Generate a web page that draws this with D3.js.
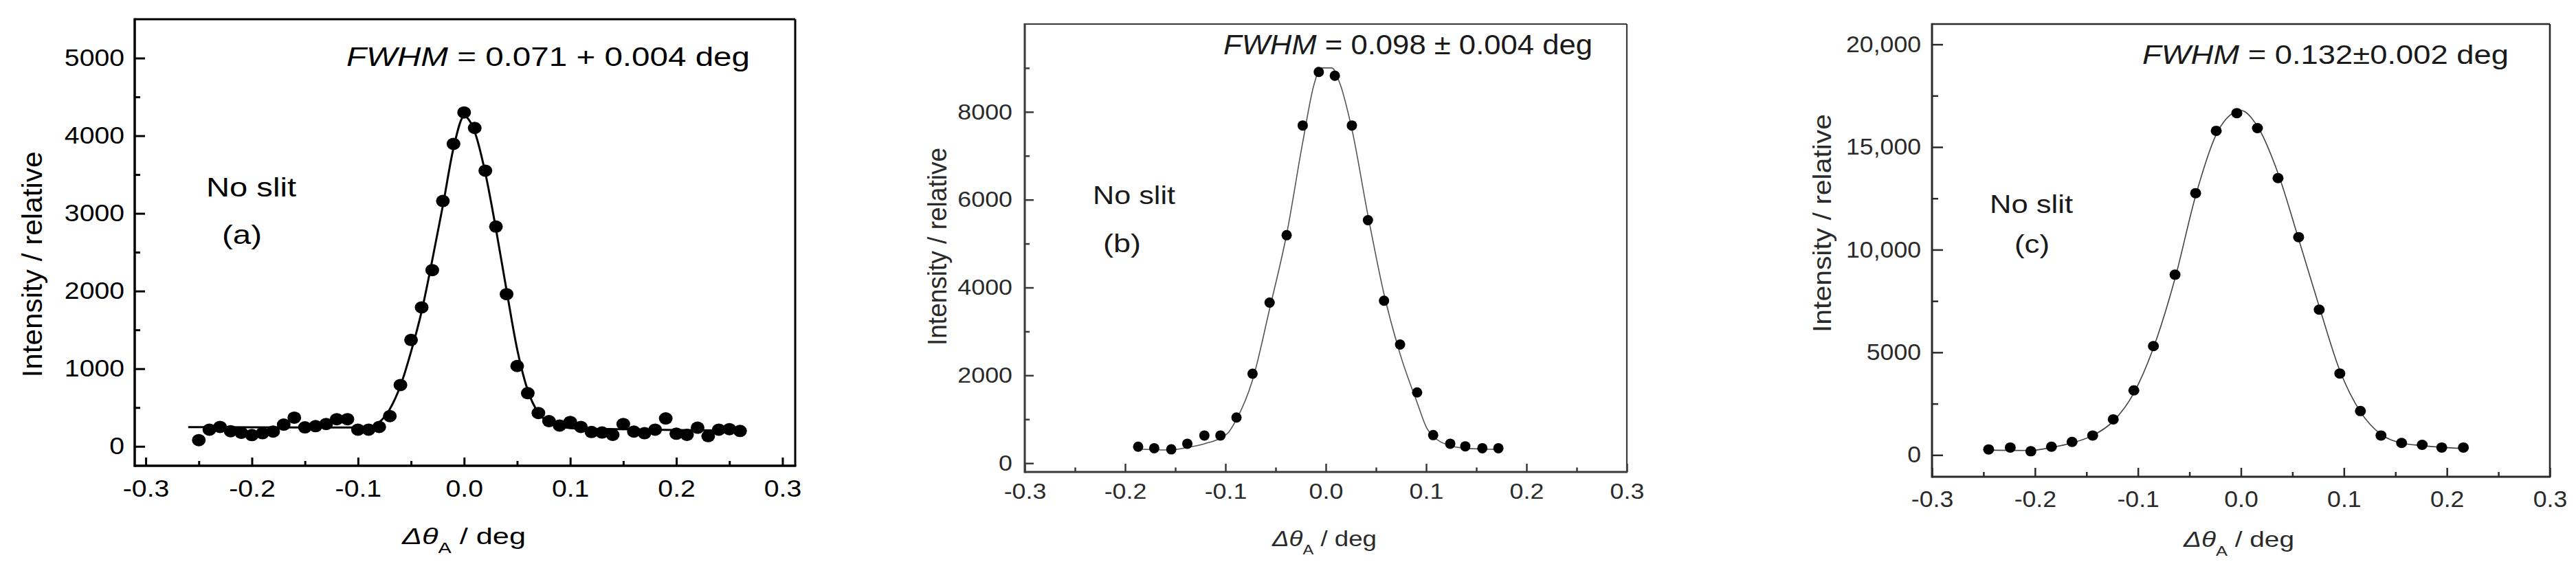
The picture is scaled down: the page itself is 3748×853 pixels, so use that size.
<!DOCTYPE html>
<html><head><meta charset="utf-8">
<script src="https://cdn.jsdelivr.net/npm/d3@7"></script>
<style>html,body{margin:0;padding:0;background:#fff;} svg{display:block;}</style>
</head><body>
<script>
// ---------------- DATA ----------------
// Panel (a)
const xA = [-0.25,-0.24,-0.23,-0.22,-0.21,-0.20,-0.19,-0.18,-0.17,-0.16,-0.15,-0.14,-0.13,-0.12,-0.11,-0.10,-0.09,-0.08,-0.07,-0.06,-0.05,-0.04,-0.03,-0.02,-0.01,0.00,0.01,0.02,0.03,0.04,0.05,0.06,0.07,0.08,0.09,0.10,0.11,0.12,0.13,0.14,0.15,0.16,0.17,0.18,0.19,0.20,0.21,0.22,0.23,0.24,0.25,0.26];
const yA = [80,215,250,195,175,145,170,190,280,370,245,260,288,350,350,215,215,250,390,790,1370,1790,2270,3160,3895,4300,4100,3550,2830,1960,1035,685,430,325,268,315,250,185,178,148,288,190,170,215,360,163,148,240,132,215,222,198];
const fitXA = [-0.26,-0.2,-0.15,-0.1,-0.09,-0.08,-0.07,-0.06,-0.05,-0.04,-0.03,-0.02,-0.01,0.0,0.01,0.02,0.03,0.04,0.05,0.06,0.07,0.08,0.09,0.10,0.15,0.20,0.26];
const fitYA = [248,246,244,243,250,310,480,780,1220,1740,2400,3100,3840,4250,4050,3520,2800,2010,1250,720,430,310,260,235,220,210,205];
// Panel (b)
const xB = [-0.187,-0.171,-0.154,-0.138,-0.121,-0.105,-0.089,-0.073,-0.056,-0.039,-0.023,-0.007,0.009,0.026,0.042,0.058,0.074,0.091,0.107,0.124,0.139,0.156,0.172];
const yB = [375,341,315,443,631,631,1040,2037,3657,5192,7690,8909,8824,7690,5533,3700,2702,1611,639,443,384,341,341];
const fitXB = [-0.187,-0.171,-0.154,-0.138,-0.121,-0.105,-0.097,-0.089,-0.073,-0.056,-0.039,-0.023,-0.012,-0.005,0.006,0.014,0.026,0.042,0.058,0.074,0.091,0.101,0.107,0.124,0.139,0.156,0.172];
const fitYB = [320,305,300,358,443,571,700,997,1893,3512,5217,7306,8600,9000,9000,8650,7604,5644,3853,2489,1381,784,614,400,341,320,315];
// Panel (c)
const xC = [-0.245,-0.224,-0.204,-0.184,-0.164,-0.144,-0.124,-0.104,-0.085,-0.064,-0.044,-0.024,-0.004,0.016,0.036,0.056,0.076,0.096,0.116,0.136,0.156,0.176,0.195,0.216];
const yC = [274,366,183,403,640,951,1738,3147,5306,8783,12754,15791,16651,15919,13486,10613,7081,3971,2141,951,586,494,366,366];
const fitXC = [-0.245,-0.204,-0.184,-0.164,-0.144,-0.124,-0.104,-0.085,-0.064,-0.044,-0.024,-0.004,0.0,0.016,0.036,0.056,0.076,0.096,0.116,0.136,0.156,0.176,0.216];
const fitYC = [240,220,366,586,951,1647,3019,5215,8600,12626,15609,16743,16780,16011,13724,10522,7228,4117,2104,1006,586,457,311];
// Ticks
const xTicks = [-0.3,-0.2,-0.1,0.0,0.1,0.2,0.3];
const xTickLabels = ["-0.3","-0.2","-0.1","0.0","0.1","0.2","0.3"];
const xMinor = [-0.25,-0.15,-0.05,0.05,0.15,0.25];
const yTicksA = [0,1000,2000,3000,4000,5000];
const yLabelsA = ["0","1000","2000","3000","4000","5000"];
const yMinorA = [500,1500,2500,3500,4500];
const yTicksB = [0,2000,4000,6000,8000];
const yLabelsB = ["0","2000","4000","6000","8000"];
const yMinorB = [1000,3000,5000,7000,9000];
const yTicksC = [0,5000,10000,15000,20000];
const yLabelsC = ["0","5000","10,000","15,000","20,000"];
const yMinorC = [2500,7500,12500,17500];

// ---------------- DRAW ----------------
const W = 3748, H = 853;
const FONT = "'Liberation Sans', Arial, sans-serif";
const svg = d3.select("body").append("svg").attr("width", W).attr("height", H)
  .style("background", "#fff").attr("font-family", FONT);

function addText(g, o) {
  const t = g.append("text")
    .attr("font-size", o.size)
    .attr("fill", o.color || "#000")
    .attr("text-anchor", o.anchor || "start");
  if (o.rotate) {
    t.attr("transform", `translate(${o.x},${o.y}) rotate(-90)`);
  } else {
    t.attr("x", o.x).attr("y", o.y);
  }
  o.parts.forEach(p => {
    const s = t.append("tspan").text(p.t);
    if (p.italic) s.attr("font-style", "italic");
    if (p.sub) s.attr("font-size", p.subSize).attr("dy", p.dy);
    if (p.back) s.attr("dy", p.back);
  });
  if (o.len) t.attr("textLength", o.len).attr("lengthAdjust", "spacingAndGlyphs");
  return t;
}

function panel(o) {
  const g = svg.append("g");
  const x = d3.scaleLinear().domain(o.xDom).range([o.L, o.R]);
  const y = d3.scaleLinear().domain(o.yDom).range([o.B, o.T]);

  // minor ticks
  const yMin = g.append("g").attr("transform", `translate(${o.L},0)`)
    .call(d3.axisLeft(y).tickValues(o.yMinor).tickSize(-o.yMinLen).tickFormat(""));
  const xMin = g.append("g").attr("transform", `translate(0,${o.B})`)
    .call(d3.axisBottom(x).tickValues(xMinor).tickSize(-o.xMinLen).tickFormat(""));
  // major ticks
  const yMaj = g.append("g").attr("transform", `translate(${o.L},0)`)
    .call(d3.axisLeft(y).tickValues(o.yTicks).tickSize(-o.yMajLen)
      .tickFormat((d, i) => o.yLabels[i]).tickPadding(o.yPad));
  const xMaj = g.append("g").attr("transform", `translate(0,${o.B})`)
    .call(d3.axisBottom(x).tickValues(xTicks).tickSize(-o.xMajLen)
      .tickFormat((d, i) => xTickLabels[i]).tickPadding(o.xPad));
  [yMin, xMin, yMaj, xMaj].forEach(a => {
    a.select(".domain").remove();
    a.selectAll(".tick line").attr("stroke", o.axisColor).attr("stroke-width", o.tickW);
    a.selectAll(".tick text").attr("font-family", FONT).attr("font-size", o.tickSize)
      .attr("fill", o.textColor);
  });
  yMaj.selectAll(".tick text").attr("x", -o.yPad / o.sx)
    .attr("transform", `scale(${o.sx},1)`);
  xMaj.selectAll(".tick text").attr("transform", `scale(${o.sx},1)`);

  // frame
  g.append("line").attr("x1", o.L).attr("x2", o.R).attr("y1", o.T).attr("y2", o.T)
    .attr("stroke", o.axisColor).attr("stroke-width", o.frameTopW);
  g.append("line").attr("x1", o.R).attr("x2", o.R).attr("y1", o.T).attr("y2", o.B)
    .attr("stroke", o.axisColor).attr("stroke-width", o.frameTopW);
  g.append("line").attr("x1", o.L).attr("x2", o.L).attr("y1", o.T - o.frameTopW / 2).attr("y2", o.B + o.frameW / 2)
    .attr("stroke", o.axisColor).attr("stroke-width", o.frameW);
  g.append("line").attr("x1", o.L).attr("x2", o.R + o.frameTopW / 2).attr("y1", o.B).attr("y2", o.B)
    .attr("stroke", o.axisColor).attr("stroke-width", o.frameW);

  // fit line
  const fit = o.fitX.map((v, i) => [v, o.fitY[i]]);
  g.append("path").datum(fit)
    .attr("fill", "none").attr("stroke", o.lineColor).attr("stroke-width", o.lineW)
    .attr("d", d3.line().x(d => x(d[0])).y(d => y(d[1])).curve(d3.curveMonotoneX));

  // points
  const pts = o.xs.map((v, i) => [v, o.ys[i]]);
  g.append("g").selectAll("ellipse").data(pts).join("ellipse")
    .attr("cx", d => x(d[0])).attr("cy", d => y(d[1]))
    .attr("rx", o.rx).attr("ry", o.ry).attr("fill", "#000");

  // texts
  o.texts.forEach(t => addText(g, t));
}

// Panel (a)
panel({
  L: 196, R: 1157, T: 28, B: 678, xDom: [-0.3104, 0.312], yDom: [-250, 5500],
  xs: xA, ys: yA, fitX: fitXA, fitY: fitYA,
  yTicks: yTicksA, yLabels: yLabelsA, yMinor: yMinorA,
  yMajLen: 15, yMinLen: 8, xMajLen: 12, xMinLen: 7, tickW: 3,
  yPad: 15, xPad: 20, tickSize: 35, sx: 1.12,
  axisColor: "#000", textColor: "#000", frameW: 3.5, frameTopW: 3,
  lineColor: "#000", lineW: 3, rx: 10, ry: 9,
  texts: [
    { x: 504, y: 96, size: 38, len: 587, parts: [{ t: "FWHM", italic: true }, { t: " = 0.071 + 0.004 deg" }] },
    { x: 300, y: 286, size: 39, len: 131, parts: [{ t: "No slit" }] },
    { x: 323, y: 355, size: 39, len: 58, parts: [{ t: "(a)" }] },
    { x: 61, y: 385, size: 41, len: 329, rotate: true, anchor: "middle", parts: [{ t: "Intensity /  relative" }] },
    { x: 585, y: 792, size: 33, len: 180, parts: [{ t: "Δθ", italic: true }, { t: "A", sub: true, subSize: 22, dy: 13 }, { t: " / deg", back: -13 }] }
  ]
});

// Panel (b)
panel({
  L: 1491, R: 2367, T: 35, B: 687, xDom: [-0.3, 0.3], yDom: [-200, 10000],
  xs: xB, ys: yB, fitX: fitXB, fitY: fitYB,
  yTicks: yTicksB, yLabels: yLabelsB, yMinor: yMinorB,
  yMajLen: 13, yMinLen: 7, xMajLen: 12, xMinLen: 6.5, tickW: 2.5,
  yPad: 18, xPad: 16, tickSize: 32, sx: 1.12,
  axisColor: "#3a3a3a", textColor: "#2a2a2a", frameW: 3, frameTopW: 2.2,
  lineColor: "#555", lineW: 1.6, rx: 7.5, ry: 7.5,
  texts: [
    { x: 1780, y: 79, size: 40, len: 537, color: "#1a1a1a", parts: [{ t: "FWHM", italic: true }, { t: "  = 0.098 ± 0.004 deg" }] },
    { x: 1590, y: 297, size: 37, len: 120, color: "#1a1a1a", parts: [{ t: "No slit" }] },
    { x: 1605, y: 367, size: 37, len: 55, color: "#1a1a1a", parts: [{ t: "(b)" }] },
    { x: 1377, y: 359, size: 38, len: 288, rotate: true, anchor: "middle", color: "#2a2a2a", parts: [{ t: "Intensity / relative" }] },
    { x: 1851, y: 795, size: 31, len: 152, color: "#2a2a2a", parts: [{ t: "Δθ", italic: true }, { t: "A", sub: true, subSize: 20, dy: 12 }, { t: " / deg", back: -12 }] }
  ]
});

// Panel (c)
panel({
  L: 2811, R: 3710, T: 35, B: 694, xDom: [-0.3, 0.3], yDom: [-1060, 20990],
  xs: xC, ys: yC, fitX: fitXC, fitY: fitYC,
  yTicks: yTicksC, yLabels: yLabelsC, yMinor: yMinorC,
  yMajLen: 16, yMinLen: 9, xMajLen: 13, xMinLen: 7, tickW: 2.5,
  yPad: 16, xPad: 21, tickSize: 33, sx: 1.08,
  axisColor: "#2a2a2a", textColor: "#2a2a2a", frameW: 3, frameTopW: 2.6,
  lineColor: "#444", lineW: 1.6, rx: 8, ry: 7.5,
  texts: [
    { x: 3117, y: 93, size: 39, len: 533, color: "#1a1a1a", parts: [{ t: "FWHM", italic: true }, { t: " = 0.132±0.002 deg" }] },
    { x: 2895, y: 310, size: 37, len: 121, color: "#1a1a1a", parts: [{ t: "No slit" }] },
    { x: 2931, y: 368, size: 37, len: 51, color: "#1a1a1a", parts: [{ t: "(c)" }] },
    { x: 2664, y: 325, size: 37, len: 318, rotate: true, anchor: "middle", color: "#2a2a2a", parts: [{ t: "Intensity / relative" }] },
    { x: 3177, y: 796, size: 32, len: 161, color: "#2a2a2a", parts: [{ t: "Δθ", italic: true }, { t: "A", sub: true, subSize: 21, dy: 13 }, { t: " / deg", back: -13 }] }
  ]
});
</script>
</body></html>
